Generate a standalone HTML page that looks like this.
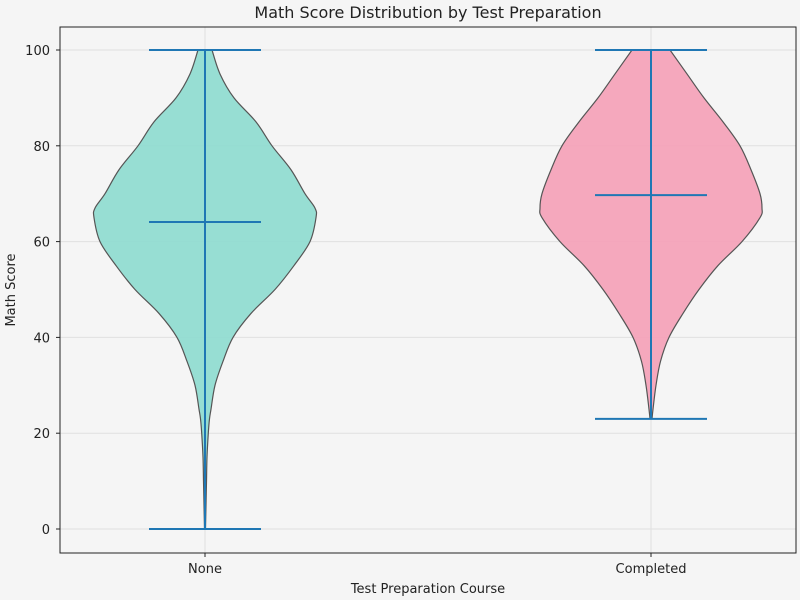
<!DOCTYPE html>
<html><head><meta charset="utf-8"><style>
html,body{margin:0;padding:0;background:#f5f5f5;overflow:hidden;}
svg{display:block;}
svg text{font-family:"DejaVu Sans","Liberation Sans",sans-serif;fill:#222;}
</style></head><body>
<svg width="800" height="600" xmlns="http://www.w3.org/2000/svg">
<rect width="800" height="600" fill="#f5f5f5"/>
<g id="grid"></g>
<g id="violins"></g>
<rect x="60" y="27" width="736" height="526" fill="none" stroke="#222" stroke-width="1"/>
<g id="ticks"></g>
<text x="428" y="18" text-anchor="middle" font-size="16">Math Score Distribution by Test Preparation</text>
<text x="428" y="593" text-anchor="middle" font-size="13">Test Preparation Course</text>
<text x="15" y="290" text-anchor="middle" font-size="13" transform="rotate(-90 15 290)">Math Score</text>
</svg>
<script>
const categories=["None","Completed"];
const colors=["#8ddccf","#f5a0b7"];
const scores=[0,5,10,15,20,23,25,30,35,40,45,50,55,60,65,67,70,75,80,85,90,95,100];
const widthNone=[0.5,1,1.5,2,3.3,4.5,6,10,18,28,46,70,89,105,111,110,100,86,67,51,29,15,7];
const widthCompleted=[null,null,null,null,null,1,2,5,9.5,18,32,48,67,91,109,111,109,100,89,72,53,36,19];
const means=[64.1,69.7];
const mins=[0,23];
const maxs=[100,100];
const yTicks=[0,20,40,60,80,100];
const NS="http://www.w3.org/2000/svg";
const xc=i=>205+i*446;
const y=v=>529-v*4.79;
function mk(t,a,p){const e=document.createElementNS(NS,t);for(const k in a)e.setAttribute(k,a[k]);p.appendChild(e);return e;}
function spline(P){
 let d='';
 for(let k=0;k<P.length-1;k++){
  const p0=P[Math.max(k-1,0)],p1=P[k],p2=P[k+1],p3=P[Math.min(k+2,P.length-1)];
  const c1=[p1[0]+(p2[0]-p0[0])/6,p1[1]+(p2[1]-p0[1])/6];
  const c2=[p2[0]-(p3[0]-p1[0])/6,p2[1]-(p3[1]-p1[1])/6];
  d+='C'+c1[0]+','+c1[1]+' '+c2[0]+','+c2[1]+' '+p2[0]+','+p2[1];
 }
 return d;
}
const grid=document.getElementById('grid'),ticks=document.getElementById('ticks'),vg=document.getElementById('violins');
yTicks.forEach(v=>{
 const g=mk('line',{x1:60,x2:796,y1:y(v),y2:y(v),stroke:'#e0e0e0','stroke-width':1},grid);
 
 
 const t=mk('line',{x1:56,x2:60,y1:y(v),y2:y(v),stroke:'#222'},ticks);
 
 
 const l=mk('text',{x:50,y:y(v)+5,'text-anchor':'end','font-size':13},ticks);
 l.textContent=v;
 
 
});
categories.forEach((c,i)=>{
 const g=mk('line',{x1:xc(i),x2:xc(i),y1:27,y2:553,stroke:'#e0e0e0'},grid);
 
 
 const t=mk('line',{x1:xc(i),x2:xc(i),y1:553,y2:557,stroke:'#222'},ticks);
 
 
 const l=mk('text',{x:xc(i),y:573,'text-anchor':'middle','font-size':13},ticks);
 l.textContent=c;
 
 
});
[widthNone,widthCompleted].forEach((w,i)=>{
 const pts=[];
 scores.forEach((s,k)=>{if(w[k]!=null)pts.push([s,w[k]]);});
 const R=pts.map(p=>[xc(i)+p[1],y(p[0])]);
 const L=pts.slice().reverse().map(p=>[xc(i)-p[1],y(p[0])]);
 let d='M'+R[0][0]+','+R[0][1]+spline(R)+'L'+L[0][0]+','+L[0][1]+spline(L)+'Z';
 const v=mk('path',{d:d,fill:colors[i],'fill-opacity':0.9,stroke:'#555','stroke-width':1.2,'stroke-linejoin':'round'},vg);
 
 
 const st={stroke:'#1f77b4','stroke-width':2};
 const bar=mk('line',Object.assign({x1:xc(i),x2:xc(i),y1:y(mins[i]),y2:y(maxs[i])},st),vg);
 
 
 [[maxs[i],'max-cap'],[mins[i],'min-cap'],[means[i],'mean-line']].forEach(([val,nm])=>{
  const l=mk('line',Object.assign({x1:xc(i)-56,x2:xc(i)+56,y1:y(val),y2:y(val)},st),vg);
  
  
 });
});
</script>
</body></html>
